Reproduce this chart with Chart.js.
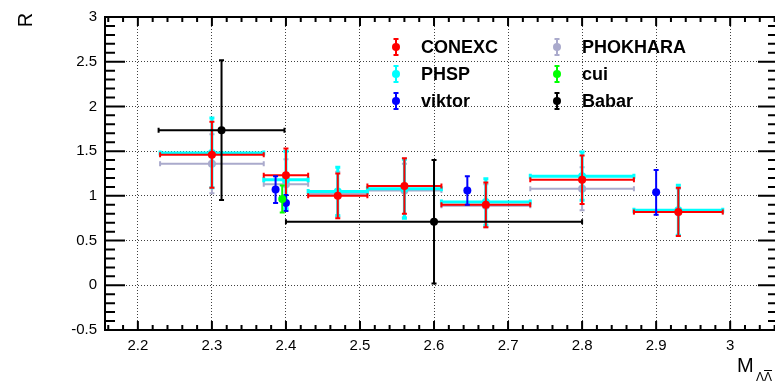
<!DOCTYPE html>
<html>
<head>
<meta charset="utf-8">
<script src="https://cdn.jsdelivr.net/npm/chart.js@4.4.0/dist/chart.umd.min.js"></script>
<style>
html, body { margin: 0; padding: 0; overflow: hidden; background: #fff; }
#wrap { width: 782px; height: 385px; }
</style>
</head>
<body>
<div id="wrap"><canvas id="rChart" width="782" height="385"></canvas></div>
<script>
// tick labels
let xTickVals = [2.2, 2.3, 2.4, 2.5, 2.6, 2.7, 2.8, 2.9, 3.0];
let yTickVals = [-0.5, 0, 0.5, 1, 1.5, 2, 2.5, 3];

// CONEXC / PHSP / PHOKHARA share the same bins
let binX = [2.30, 2.40, 2.47, 2.56, 2.67, 2.80, 2.93];
let binXErr = [0.07, 0.03, 0.04, 0.05, 0.06, 0.07, 0.06];

let conexcY = [1.46, 1.23, 1.00, 1.11, 0.90, 1.18, 0.82];
let conexcYErr = [0.37, 0.30, 0.25, 0.31, 0.25, 0.27, 0.27];

let phspY = [1.48, 1.18, 1.05, 1.08, 0.93, 1.22, 0.84];
let phspYErr = [0.39, 0.32, 0.27, 0.33, 0.26, 0.27, 0.28];

let phokharaY = [1.36, 1.13, 1.02, 1.06, 0.89, 1.08, 0.82];
let phokharaYErr = [0.33, 0.28, 0.25, 0.30, 0.24, 0.24, 0.26];

let viktorX = [2.386, 2.40, 2.645, 2.90];
let viktorY = [1.07, 0.92, 1.06, 1.04];
let viktorYErr = [0.15, 0.09, 0.16, 0.25];

let cuiX = [2.395];
let cuiY = [0.965];
let cuiYErr = [0.15];

let babarX = [2.313, 2.60];
let babarY = [1.735, 0.71];
let babarXErr = [0.085, 0.20];
let babarYErr = [0.78, 0.69];

let legendNames = ["CONEXC", "PHSP", "viktor", "PHOKHARA", "cui", "Babar"];

let font = "'Liberation Sans', Arial, Helvetica, sans-serif";

function makeSet(name, color, xs, ys, xErr, yErr, lw) {
    let pts = [];
    for (let i = 0; i < xs.length; i++) {
        pts.push({x: xs[i], y: ys[i]});
    }
    return {
        label: name,
        data: pts,
        errX: xErr,
        errY: yErr,
        lineW: lw,
        backgroundColor: color,
        borderColor: color,
        borderWidth: 0,
        pointRadius: 4,
        pointHoverRadius: 4,
        showLine: false
    };
}

let zeros = n => new Array(n).fill(0);

// first dataset ends up on top
let datasets = [
    makeSet("Babar", '#000000', babarX, babarY, babarXErr, babarYErr, 2),
    makeSet("cui", '#00ff00', cuiX, cuiY, zeros(cuiX.length), cuiYErr, 2),
    makeSet("viktor", '#0000ff', viktorX, viktorY, zeros(viktorX.length), viktorYErr, 2),
    makeSet("CONEXC", '#ff0000', binX, conexcY, binXErr, conexcYErr, 2),
    makeSet("PHSP", '#00ffff', binX, phspY, binXErr, phspYErr, 3),
    makeSet("PHOKHARA", '#aaaacc', binX, phokharaY, binXErr, phokharaYErr, 2)
];

let colorOf = {};
datasets.forEach(d => colorOf[d.label] = d.backgroundColor);

const errorBars = {
    id: 'errorBars',
    beforeDatasetDraw(chart, args) {
        let ds = chart.data.datasets[args.index];
        let ctx = chart.ctx;
        let xs = chart.scales.x, ys = chart.scales.y;
        ctx.save();
        ctx.strokeStyle = ds.borderColor;
        ctx.lineWidth = ds.lineW;
        ctx.beginPath();
        for (let i = 0; i < ds.data.length; i++) {
            let p = ds.data[i];
            let cx = xs.getPixelForValue(p.x), cy = ys.getPixelForValue(p.y);
            if (ds.errY[i] > 0) {
                let t = ys.getPixelForValue(p.y + ds.errY[i]);
                let b = ys.getPixelForValue(p.y - ds.errY[i]);
                ctx.moveTo(cx, t); ctx.lineTo(cx, b);
                ctx.moveTo(cx - 2.5, t); ctx.lineTo(cx + 2.5, t);
                ctx.moveTo(cx - 2.5, b); ctx.lineTo(cx + 2.5, b);
            }
            if (ds.errX[i] > 0) {
                let l = xs.getPixelForValue(p.x - ds.errX[i]);
                let r = xs.getPixelForValue(p.x + ds.errX[i]);
                ctx.moveTo(l, cy); ctx.lineTo(r, cy);
                ctx.moveTo(l, cy - 2.5); ctx.lineTo(l, cy + 2.5);
                ctx.moveTo(r, cy - 2.5); ctx.lineTo(r, cy + 2.5);
            }
        }
        ctx.stroke();
        ctx.restore();
    }
};

const frameAndText = {
    id: 'frameAndText',
    afterDraw(chart) {
        let ctx = chart.ctx;
        let a = chart.chartArea;
        let xs = chart.scales.x, ys = chart.scales.y;
        ctx.save();
        ctx.strokeStyle = '#000';
        ctx.lineWidth = 2;
        ctx.strokeRect(a.left, a.top, a.right - a.left, a.bottom - a.top);

        // ticks pointing inwards, like ROOT
        ctx.beginPath();
        for (let k = Math.ceil(xs.min / 0.02 - 1e-6); k * 0.02 <= xs.max + 1e-9; k++) {
            let px = xs.getPixelForValue(k * 0.02);
            let len = (k % 5 === 0) ? 9 : 5;
            ctx.moveTo(px, a.bottom); ctx.lineTo(px, a.bottom - len);
            ctx.moveTo(px, a.top); ctx.lineTo(px, a.top + len);
        }
        for (let k = Math.ceil(ys.min / 0.1 - 1e-6); k * 0.1 <= ys.max + 1e-9; k++) {
            let py = ys.getPixelForValue(k * 0.1);
            let len = (k % 5 === 0) ? 20 : 10;
            ctx.moveTo(a.left, py); ctx.lineTo(a.left + len, py);
            ctx.moveTo(a.right, py); ctx.lineTo(a.right - len, py);
        }
        ctx.stroke();

        // legend
        ctx.font = "bold 18px " + font;
        ctx.textBaseline = 'middle';
        ctx.textAlign = 'left';
        let colX = [396, 557], rowY = [47, 74, 101];
        for (let i = 0; i < legendNames.length; i++) {
            let mx = colX[Math.floor(i / 3)], my = rowY[i % 3];
            let c = colorOf[legendNames[i]];
            ctx.strokeStyle = c;
            ctx.fillStyle = c;
            ctx.lineWidth = 2;
            ctx.beginPath();
            ctx.moveTo(mx, my - 8); ctx.lineTo(mx, my + 8);
            ctx.moveTo(mx - 2.5, my - 8); ctx.lineTo(mx + 2.5, my - 8);
            ctx.moveTo(mx - 2.5, my + 8); ctx.lineTo(mx + 2.5, my + 8);
            ctx.stroke();
            ctx.beginPath();
            ctx.arc(mx, my, 4, 0, Math.PI * 2);
            ctx.fill();
            ctx.fillStyle = '#000';
            ctx.fillText(legendNames[i], mx + 25, my + 1);
        }

        // axis titles
        ctx.fillStyle = '#000';
        ctx.font = "20px " + font;
        ctx.save();
        ctx.translate(32, 20);
        ctx.rotate(-Math.PI / 2);
        ctx.textAlign = 'center';
        ctx.textBaseline = 'alphabetic';
        ctx.fillText("R", 0, 0);
        ctx.restore();

        ctx.textAlign = 'left';
        ctx.textBaseline = 'alphabetic';
        ctx.fillText("M", 737, 372);
        ctx.font = "12px " + font;
        ctx.fillText("ΛΛ", 756, 381);
        let w1 = ctx.measureText("Λ").width;
        ctx.lineWidth = 1;
        ctx.strokeStyle = '#000';
        ctx.beginPath();
        ctx.moveTo(756 + w1, 370.5);
        ctx.lineTo(756 + 2 * w1, 370.5);
        ctx.stroke();
        ctx.restore();
    }
};

let canvas = document.getElementById('rChart');
let rChart = new Chart(canvas, {
    type: 'scatter',
    data: { datasets: datasets },
    options: {
        responsive: false,
        devicePixelRatio: 1,
        animation: false,
        layout: { padding: { left: 0, top: 13, right: 2, bottom: 0 } },
        plugins: {
            legend: { display: false },
            tooltip: { enabled: false }
        },
        scales: {
            x: {
                type: 'linear',
                min: 2.1556,
                max: 3.0646,
                afterBuildTicks: s => { s.ticks = xTickVals.map(v => ({value: v})); },
                afterFit: s => { s.height = 55; },
                grid: { color: 'rgba(0,0,0,0.75)', lineWidth: 1, drawTicks: false },
                border: { display: false, dash: [1, 2] },
                ticks: {
                    padding: 7,
                    color: '#000',
                    font: { family: font, size: 15 },
                    maxRotation: 0,
                    callback: v => String(Math.round(v * 10) / 10)
                }
            },
            y: {
                type: 'linear',
                min: -0.5,
                max: 3,
                afterBuildTicks: s => { s.ticks = yTickVals.map(v => ({value: v})); },
                afterFit: s => { s.width = 105; },
                grid: { color: 'rgba(0,0,0,0.75)', lineWidth: 1, drawTicks: false },
                border: { display: false, dash: [1, 2] },
                ticks: {
                    padding: 8,
                    color: '#000',
                    font: { family: font, size: 15 },
                    callback: v => String(Math.round(v * 10) / 10)
                }
            }
        }
    },
    plugins: [errorBars, frameAndText]
});
</script>
</body>
</html>
